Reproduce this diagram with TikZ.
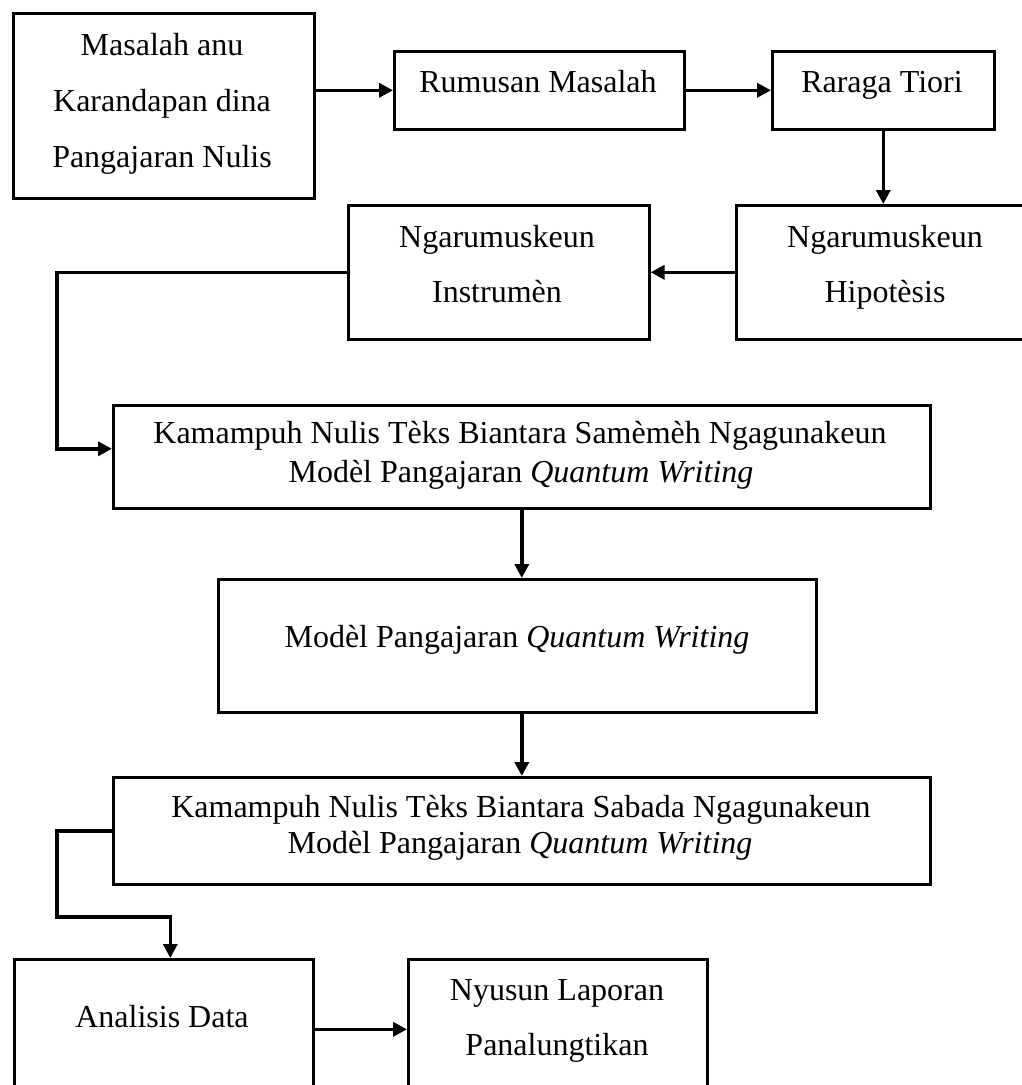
\documentclass[tikz,border=0pt]{standalone}
\usepackage{fontspec}
\setmainfont{Liberation Serif}
\usetikzlibrary{arrows.meta,calc}
\begin{document}
\begin{tikzpicture}[x=1pt,y=-1pt,
  box/.style={draw, line width=2.6pt, inner sep=0pt, anchor=north west},
  txt/.style={font=\fontsize{32}{38}\selectfont, anchor=base, inner sep=0pt},
  arr/.style={line width=3.6pt, -{Triangle[length=14pt,width=14pt]}}]
\fill[white] (0,0) rectangle (1022,1085);
\useasboundingbox (0,0) rectangle (1022,1085);

% boxes
\node[box, minimum width=301pt, minimum height=185pt] (A) at (12,12) {};
\node[box, minimum width=290pt, minimum height=78pt]  (B) at (393,50) {};
\node[box, minimum width=222pt, minimum height=78pt]  (C) at (771,50) {};
\node[box, minimum width=300pt, minimum height=134pt] (D) at (735,204) {};
\node[box, minimum width=301pt, minimum height=134pt] (E) at (347,204) {};
\node[box, minimum width=817pt, minimum height=103pt] (F) at (112,404) {};
\node[box, minimum width=598pt, minimum height=133pt] (G) at (217,578) {};
\node[box, minimum width=817pt, minimum height=107pt] (H) at (112,776) {};
\node[box, minimum width=299pt, minimum height=140pt] (I) at (13,958) {};
\node[box, minimum width=299pt, minimum height=140pt] (J) at (407,958) {};

% texts
\node[txt] (a1) at (162,55)  {Masalah anu};
\node[txt] (a2) at (162,111) {Karandapan dina};
\node[txt] (a3) at (162,167) {Pangajaran Nulis};
\node[txt] (b1) at (538,92)  {Rumusan Masalah};
\node[txt] (c1) at (882,92)  {Raraga Tiori};
\node[txt] (d1) at (885,247) {Ngarumuskeun};
\node[txt] (d2) at (885,302) {Hipotèsis};
\node[txt] (e1) at (497,247) {Ngarumuskeun};
\node[txt] (e2) at (497,302) {Instrumèn};
\node[txt] (f1) at (520,443) {Kamampuh Nulis Tèks Biantara Samèmèh Ngagunakeun};
\node[txt] (f2) at (521,482) {Modèl Pangajaran \textit{Quantum Writing}};
\node[txt] (g1) at (517,647) {Modèl Pangajaran \textit{Quantum Writing}};
\node[txt] (h1) at (521,817) {Kamampuh Nulis Tèks Biantara Sabada Ngagunakeun};
\node[txt] (h2) at (520,853) {Modèl Pangajaran \textit{Quantum Writing}};
\node[txt] (i1) at (162,1027) {Analisis Data};
\node[txt] (j1) at (557,1000) {Nyusun Laporan};
\node[txt] (j2) at (557,1055) {Panalungtikan};

% connectors
\draw[arr] (A.east |- B.west) -- (B.west);
\draw[arr] (B.east) -- (C.west);
\draw[arr] (C.south) -- (C.south |- D.north);
\draw[arr] (D.west) -- (D.west -| E.east);
\draw[arr] (E.west) -- ++(-290,0) |- ($(F.west)+(0,-8)$);
\draw[arr] (F.south) -- (F.south |- G.north);
\draw[arr] (F.south |- G.south) -- (F.south |- H.north);
\coordinate (k) at ($(I.north)+(6.5,0)$);
\draw[arr] (H.west) -- ++(-55,0) |- ($(k)+(0,-41)$) -- (k);
\draw[arr] (I.east |- J.west) -- (J.west);
\end{tikzpicture}
\end{document}
